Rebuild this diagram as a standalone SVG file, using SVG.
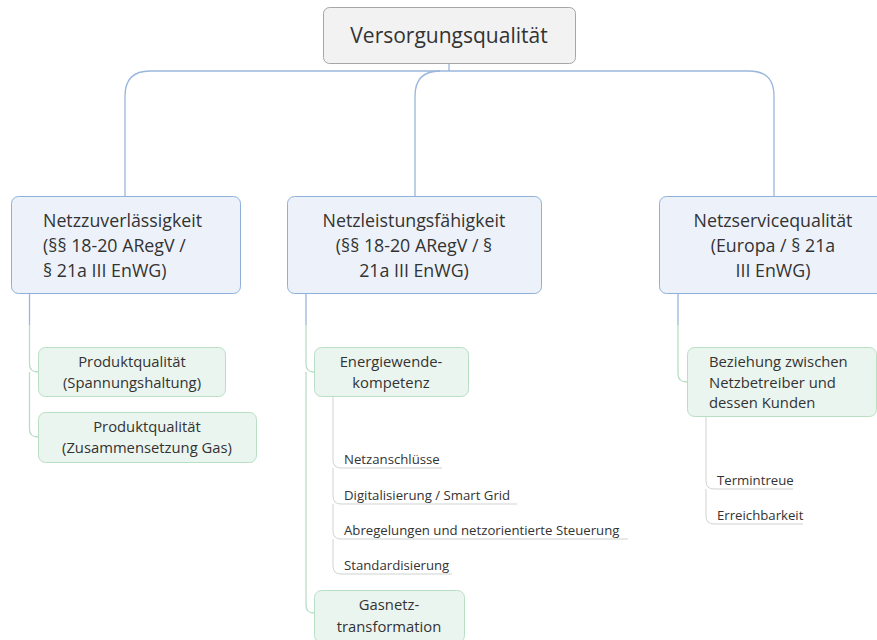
<svg xmlns="http://www.w3.org/2000/svg" width="877" height="640" viewBox="0 0 877 640">
<style>
text{font-family:"Open Sans","Noto Sans","DejaVu Sans",sans-serif;fill:#333}
.root{fill:#f2f2f2;stroke:#a6a6a6;stroke-width:1}
.l1{fill:#edf2fa;stroke:#8eb0da;stroke-width:1}
.l2{fill:#ebf5ef;stroke:#b8dfc4;stroke-width:1}
.t0{font-size:21px}
.t1{font-size:17.8px}
.t2{font-size:14.8px}
.t3{font-size:13.2px}
.c{text-anchor:middle}
.cb{fill:none;stroke:#9ab7dc;stroke-width:1.3}
.cg{fill:none;stroke:#b8dfc4;stroke-width:1.3}
.cs{fill:none;stroke:#cfd3d0;stroke-width:1}
</style>
<g id="connectors">
<path class="cb" d="M449,63 V71"/>
<path class="cb" d="M125,196 V96 Q125,71 150,71 H749 Q774,71 774,96 V196"/>
<path class="cb" d="M415,196 V96 Q415,71 440,71"/>
<path class="cb" d="M29.5,294 V325"/>
<path class="cg" d="M29.5,325 V364 Q29.5,372 38,372"/>
<path class="cg" d="M29.5,372 V429 Q29.5,437 38,437"/>
<path class="cb" d="M306,294 V325"/>
<path class="cg" d="M306,325 V364 Q306,372 314,372"/>
<path class="cg" d="M306,372 V605 Q306,613 314,613"/>
<path class="cb" d="M678,294 V325"/>
<path class="cg" d="M678,325 V374 Q678,382 687,382"/>
<path class="cs" d="M333,397 V460 Q333,468 341,468 H442"/>
<path class="cs" d="M333,468 V496 Q333,504 341,504 H517"/>
<path class="cs" d="M333,504 V531 Q333,539 341,539 H628"/>
<path class="cs" d="M333,539 V566 Q333,574 341,574 H452"/>
<path class="cs" d="M706,417 V481 Q706,489 714,489 H793"/>
<path class="cs" d="M706,489 V516 Q706,524 714,524 H803"/>
</g>
<g id="root">
<rect class="root" x="323.5" y="7.5" width="252" height="56" rx="6"/>
<text class="t0 c" x="449" y="43">Versorgungsqualität</text>
</g>
<g id="n1">
<rect class="l1" x="11.5" y="196.5" width="229" height="97" rx="7"/>
<text class="t1" x="43" y="227">Netzzuverlässigkeit</text>
<text class="t1" x="43" y="252">(§§ 18-20 ARegV /</text>
<text class="t1" x="43" y="277">§ 21a III EnWG)</text>
</g>
<g id="n2">
<rect class="l1" x="287.5" y="196.5" width="254" height="97" rx="7"/>
<text class="t1 c" x="414" y="227">Netzleistungsfähigkeit</text>
<text class="t1 c" x="414" y="252">(§§ 18-20 ARegV / §</text>
<text class="t1 c" x="414" y="277">21a III EnWG)</text>
</g>
<g id="n3">
<rect class="l1" x="659.5" y="196.5" width="230" height="97" rx="7"/>
<text class="t1 c" x="773" y="227">Netzservicequalität</text>
<text class="t1 c" x="773" y="252">(Europa / § 21a</text>
<text class="t1 c" x="773" y="277">III EnWG)</text>
</g>
<g id="n1a">
<rect class="l2" x="38.5" y="347.5" width="187" height="49" rx="7"/>
<text class="t2 c" x="132" y="367">Produktqualität</text>
<text class="t2 c" x="132" y="388">(Spannungshaltung)</text>
</g>
<g id="n1b">
<rect class="l2" x="38.5" y="412.5" width="218" height="50" rx="7"/>
<text class="t2 c" x="147" y="432">Produktqualität</text>
<text class="t2 c" x="147" y="453">(Zusammensetzung Gas)</text>
</g>
<g id="n2a">
<rect class="l2" x="314.5" y="347.5" width="154" height="49" rx="7"/>
<text class="t2 c" x="391" y="367">Energiewende-</text>
<text class="t2 c" x="391" y="388">kompetenz</text>
</g>
<g id="n2b">
<rect class="l2" x="314.5" y="590.5" width="150" height="52" rx="7"/>
<text class="t2 c" x="389" y="610">Gasnetz-</text>
<text class="t2 c" x="389" y="632">transformation</text>
</g>
<g id="n2a1"><text class="t3" x="344" y="464">Netzanschlüsse</text></g>
<g id="n2a2"><text class="t3" x="344" y="500">Digitalisierung / Smart Grid</text></g>
<g id="n2a3"><text class="t3" x="344" y="535">Abregelungen und netzorientierte Steuerung</text></g>
<g id="n2a4"><text class="t3" x="344" y="570">Standardisierung</text></g>
<g id="n3a">
<rect class="l2" x="687.5" y="347.5" width="189" height="69" rx="7"/>
<text class="t2" x="709" y="367">Beziehung zwischen</text>
<text class="t2" x="709" y="388">Netzbetreiber und</text>
<text class="t2" x="709" y="408">dessen Kunden</text>
</g>
<g id="n3a1"><text class="t3" x="717" y="485">Termintreue</text></g>
<g id="n3a2"><text class="t3" x="717" y="520">Erreichbarkeit</text></g>
</svg>
